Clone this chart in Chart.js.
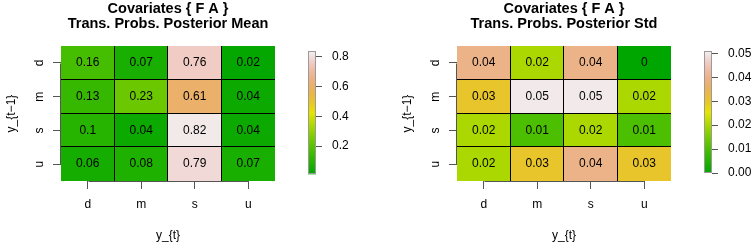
<!DOCTYPE html>
<html><head><meta charset="utf-8">
<script src="https://cdn.jsdelivr.net/npm/chart.js@4.4.1/dist/chart.umd.min.js"></script>
<style>
html,body{margin:0;padding:0;background:#fff;overflow:hidden;width:755px;height:245px;}
#c1{position:absolute;left:0;top:0;}
#c2{position:absolute;left:396px;top:0;}
</style></head><body>
<canvas id="c1" width="380" height="245"></canvas>
<canvas id="c2" width="359" height="245"></canvas>
<script>
// ---- data ----
const colLabels = ['d', 'm', 's', 'u'];          // y_{t}
const rowLabels = ['d', 'm', 's', 'u'];          // y_{t-1}, top to bottom
const meanValues = [
  [0.16, 0.07, 0.76, 0.02],
  [0.13, 0.23, 0.61, 0.04],
  [0.1, 0.04, 0.82, 0.04],
  [0.06, 0.08, 0.79, 0.07]
];
const stdValues = [
  [0.04, 0.02, 0.04, 0],
  [0.03, 0.05, 0.05, 0.02],
  [0.02, 0.01, 0.02, 0.01],
  [0.02, 0.03, 0.04, 0.03]
];
const meanColorRange = [0.01, 0.835];
const stdColorRange = [0, 0.0508];
const meanLegendTicks = [0.2, 0.4, 0.6, 0.8];
const meanLegendLabels = ['0.2', '0.4', '0.6', '0.8'];
const stdLegendTicks = [0, 0.01, 0.02, 0.03, 0.04, 0.05];
const stdLegendLabels = ['0.00', '0.01', '0.02', '0.03', '0.04', '0.05'];
const meanLegendAxis = [-0.0346, 0.8704];
const stdLegendAxis = [-0.00334, 0.05305];
const mainTitle = 'Covariates { F A }';
const meanSubtitle = 'Trans. Probs. Posterior Mean';
const stdSubtitle = 'Trans. Probs. Posterior Std';
const xTitle = 'y_{t}';
const yTitle = 'y_{t\u22121}';

// ---- palette (R terrain.colors) ----
const FAM = "'Liberation Sans', Arial, Helvetica, sans-serif";
function hsv2rgb(h, s, v) {
  const i = Math.floor(h * 6), f = h * 6 - i;
  const p = v * (1 - s), q = v * (1 - f * s), t = v * (1 - (1 - f) * s);
  let r, g, b;
  switch (((i % 6) + 6) % 6) {
    case 0: r = v; g = t; b = p; break;
    case 1: r = q; g = v; b = p; break;
    case 2: r = p; g = v; b = t; break;
    case 3: r = p; g = q; b = v; break;
    case 4: r = t; g = p; b = v; break;
    default: r = v; g = p; b = q;
  }
  return 'rgb(' + Math.round(r * 255) + ',' + Math.round(g * 255) + ',' + Math.round(b * 255) + ')';
}
function terrain(t) {
  t = Math.max(0, Math.min(1, t));
  if (t <= 0.5) { const u = t / 0.5; return hsv2rgb((4 - 2 * u) / 12, 1, 0.65 + 0.25 * u); }
  const u = (t - 0.5) / 0.5;
  return hsv2rgb((2 - 2 * u) / 12, 1 - u, 0.9 + 0.05 * u);
}

const overlay = {
  id: 'overlay',
  afterDatasetsDraw(chart) {
    const ctx = chart.ctx;
    const xs = chart.scales.x, ys = chart.scales.y, ca = chart.chartArea;
    ctx.save();
    // cell separators
    ctx.strokeStyle = '#000';
    ctx.lineWidth = 1;
    ctx.beginPath();
    for (let c = 0; c < colLabels.length - 1; c++) {
      const x = Math.round((xs.getPixelForValue(c) + xs.getPixelForValue(c + 1)) / 2) - 0.5;
      ctx.moveTo(x, ca.top); ctx.lineTo(x, ca.bottom);
    }
    for (let r = 1; r < rowLabels.length; r++) {
      const y = Math.round(ys.getPixelForValue(r)) - 0.5;
      ctx.moveTo(ca.left, y); ctx.lineTo(ca.right, y);
    }
    ctx.stroke();
    // cell values
    ctx.font = '12px ' + FAM;
    ctx.fillStyle = '#000';
    ctx.textAlign = 'center';
    ctx.textBaseline = 'middle';
    chart.data.datasets.forEach((ds, di) => {
      const meta = chart.getDatasetMeta(di);
      meta.data.forEach((bar, i) => {
        const p = bar.getProps(['x', 'y', 'base'], true);
        ctx.fillText(String(ds.cellValues[i]), p.x, (p.y + p.base) / 2);
      });
    });
    ctx.restore();
  },
  afterDraw(chart) {
    const ctx = chart.ctx;
    const o = chart.options.plugins.overlay;
    const xs = chart.scales.x, ys = chart.scales.y, cb = chart.scales.cb;
    const ca = chart.chartArea;
    ctx.save();
    ctx.strokeStyle = '#555';
    ctx.lineWidth = 1;
    // x axis line between first and last tick
    const xa = Math.round(xs.getPixelForValue(0)) + 0.5, xb = Math.round(xs.getPixelForValue(colLabels.length - 1)) + 0.5;
    const yl = Math.round(ca.bottom) + 0.5;
    ctx.beginPath(); ctx.moveTo(xa, yl); ctx.lineTo(xb, yl); ctx.stroke();
    // y axis line
    const ya = Math.round(ys.getPixelForValue(0.5)) + 0.5, yb = Math.round(ys.getPixelForValue(3.5)) + 0.5;
    const xl = Math.round(ca.left) - 0.5;
    ctx.beginPath(); ctx.moveTo(xl, ya); ctx.lineTo(xl, yb); ctx.stroke();
    // colour bar
    const top = cb.getPixelForValue(o.range[1]), bot = cb.getPixelForValue(o.range[0]);
    const right = cb.left, left = right - 8;
    const g = ctx.createLinearGradient(0, bot, 0, top);
    for (let k = 0; k <= 50; k++) g.addColorStop(k / 50, terrain(k / 50));
    ctx.fillStyle = g;
    ctx.fillRect(left, top, right - left, bot - top);
    ctx.strokeStyle = '#9a9a9a';
    ctx.strokeRect(left + 0.5, Math.round(top) + 0.5, right - left - 1, Math.round(bot - top) - 1);
    ctx.restore();
  }
};

function makeHeatmap(id, values, range, legendAxis, legendTicks, legendLabels, subtitle) {
  const canvas = document.getElementById(id);
  const W = canvas.width;
  const font = { family: FAM, size: 12 };
  const datasets = [3, 2, 1, 0].map(r => ({
    label: rowLabels[r],
    data: colLabels.map(() => 1),
    cellValues: values[r],
    backgroundColor: values[r].map(v => terrain((v - range[0]) / (range[1] - range[0]))),
    borderWidth: 0,
    barPercentage: 1,
    categoryPercentage: 1
  }));
  return new Chart(canvas, {
    type: 'bar',
    data: { labels: colLabels, datasets },
    plugins: [overlay],
    options: {
      responsive: false,
      animation: false,
      devicePixelRatio: 1,
      layout: { padding: 0 },
      plugins: {
        legend: { display: false },
        tooltip: { enabled: false },
        overlay: { range },
        title: {
          display: true, text: [mainTitle, subtitle], fullSize: false, color: '#000',
          font: { family: FAM, size: 14.5, weight: 'bold', lineHeight: 1.02 },
          padding: { top: 2, bottom: 14.5 }
        }
      },
      scales: {
        x: {
          type: 'category', stacked: true, offset: true,
          grid: { offset: false, drawOnChartArea: false, tickLength: 8, color: '#555' },
          border: { display: false },
          ticks: { font, color: '#000', padding: 8, maxRotation: 0 },
          title: { display: true, text: xTitle, font, color: '#000', padding: { top: 0, bottom: 2 } },
          afterFit: s => { s.height = 64; }
        },
        y: {
          type: 'linear', stacked: true, min: 0, max: 4, position: 'left',
          grid: { drawOnChartArea: false, tickLength: 8, color: '#555' },
          border: { display: false },
          afterBuildTicks: s => { s.ticks = [0.5, 1.5, 2.5, 3.5].map(v => ({ value: v })); },
          ticks: {
            callback: (v, i) => rowLabels[rowLabels.length - 1 - i],
            minRotation: 90, maxRotation: 90, crossAlign: 'center', padding: 8.5, font, color: '#000'
          },
          title: { display: true, text: yTitle, font, color: '#000', padding: { top: 4.5, bottom: 0 } },
          afterFit: s => { s.width = 61; }
        },
        sp: {
          type: 'linear', position: 'right', weight: 0,
          grid: { display: false }, border: { display: false }, ticks: { display: false },
          afterFit: s => { s.width = 41; }
        },
        cb: {
          type: 'linear', position: 'right', weight: 1, min: legendAxis[0], max: legendAxis[1],
          grid: { drawOnChartArea: false, tickLength: 6, color: '#555' },
          border: { display: false },
          afterBuildTicks: s => { s.ticks = legendTicks.map(v => ({ value: v })); },
          ticks: { callback: (v, i) => legendLabels[i], padding: 10, font, color: '#000' },
          afterFit: s => { s.width = W - 316; }
        }
      }
    }
  });
}

makeHeatmap('c1', meanValues, meanColorRange, meanLegendAxis, meanLegendTicks, meanLegendLabels, meanSubtitle);
makeHeatmap('c2', stdValues, stdColorRange, stdLegendAxis, stdLegendTicks, stdLegendLabels, stdSubtitle);
</script>
</body></html>
